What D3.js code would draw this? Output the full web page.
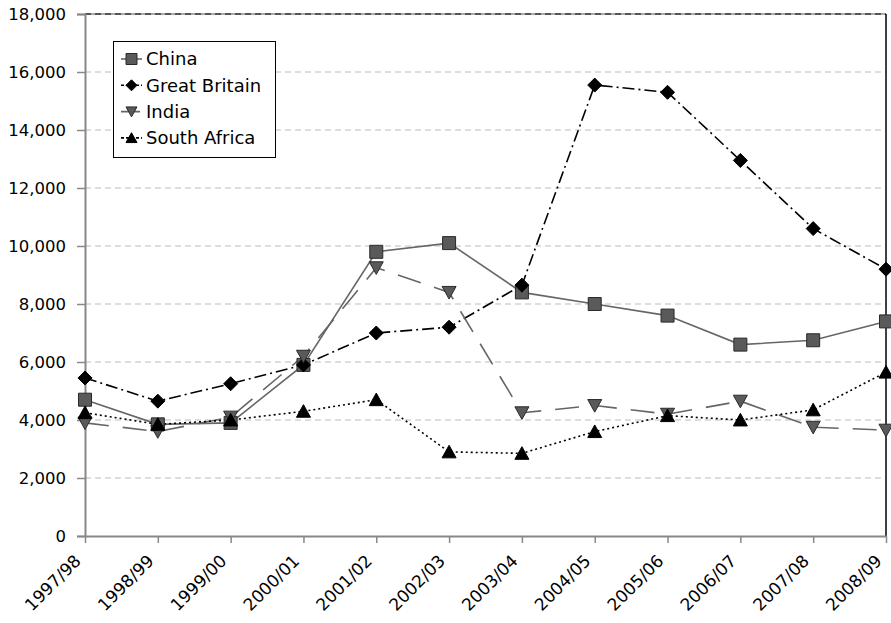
<!DOCTYPE html>
<html>
<head>
<meta charset="utf-8">
<script src="https://cdn.jsdelivr.net/npm/d3@7"></script>
<style>
  html, body { margin: 0; padding: 0; background: #fff; }
  svg { display: block; font-family: "DejaVu Sans", Verdana, sans-serif; }
</style>
</head>
<body>
<svg id="chart" width="891" height="623"></svg>
<script>
// Fiscal years on the x axis
const years = ["1997/98","1998/99","1999/00","2000/01","2001/02","2002/03",
               "2003/04","2004/05","2005/06","2006/07","2007/08","2008/09"];

// Series values per fiscal year
const china        = [4700, 3850, 3900, 5900, 9800, 10100, 8400, 8000, 7600, 6600, 6750, 7400];
const greatBritain = [5450, 4650, 5250, 5900, 7000, 7200, 8650, 15550, 15300, 12950, 10600, 9200];
const india        = [3900, 3600, 4100, 6200, 9250, 8400, 4250, 4500, 4200, 4650, 3750, 3650];
const southAfrica  = [4250, 3850, 4000, 4300, 4700, 2900, 2850, 3600, 4150, 4000, 4350, 5650];

const yTicks = [0, 2000, 4000, 6000, 8000, 10000, 12000, 14000, 16000, 18000];

const series = [
  { name: "China",        values: china,        line: "#666", dash: null,       legendDash: null,  marker: "square",  fill: "#5a5a5a", stroke: "#2a2a2a" },
  { name: "Great Britain",values: greatBritain, line: "#000", dash: "12,4,2,4", legendDash: "3,2", marker: "diamond", fill: "#000",    stroke: "#000" },
  { name: "India",        values: india,        line: "#666", dash: "24,14",    legendDash: "8,3", marker: "triDown", fill: "#5a5a5a", stroke: "#2a2a2a" },
  { name: "South Africa", values: southAfrica,  line: "#000", dash: "2,3",      legendDash: "3,2", marker: "triUp",   fill: "#000",    stroke: "#000" }
];

const svg = d3.select("#chart");
const plotLeft = 85, plotRight = 886, plotTop = 14, plotBottom = 536;

const x = d3.scalePoint().domain(years).range([plotLeft, plotRight]).padding(0);
const y = d3.scaleLinear().domain([0, 18000]).range([plotBottom, plotTop]);

// Horizontal gridlines
svg.append("g").selectAll("line")
  .data(yTicks.filter(d => d > 0 && d < 18000))
  .join("line")
  .attr("x1", plotLeft).attr("x2", plotRight)
  .attr("y1", d => y(d)).attr("y2", d => y(d))
  .attr("stroke", "#bdbdbd").attr("stroke-width", 1.2)
  .attr("stroke-dasharray", "6,4");

// Top border: light line with dark dashes
svg.append("line").attr("x1", plotLeft).attr("x2", plotRight)
  .attr("y1", y(18000)).attr("y2", y(18000))
  .attr("stroke", "#aaa").attr("stroke-width", 2);
svg.append("line").attr("x1", plotLeft).attr("x2", plotRight)
  .attr("y1", y(18000)).attr("y2", y(18000))
  .attr("stroke", "#555").attr("stroke-width", 2)
  .attr("stroke-dasharray", "6,4");

// Right border
svg.append("line").attr("x1", plotRight).attr("x2", plotRight)
  .attr("y1", plotTop).attr("y2", plotBottom)
  .attr("stroke", "#000").attr("stroke-width", 1.5);

// Y axis
const yAxis = svg.append("g")
  .attr("transform", `translate(${plotLeft},0)`)
  .call(d3.axisLeft(y).tickValues(yTicks).tickSize(8).tickPadding(11)
        .tickFormat(d3.format(",")));
yAxis.select(".domain").attr("stroke", "#888").attr("stroke-width", 2);
yAxis.selectAll(".tick line").attr("stroke", "#888").attr("stroke-width", 1.5);
yAxis.selectAll("text").attr("font-size", 16.5).attr("fill", "#000")
  .attr("font-family", "DejaVu Sans, Verdana, sans-serif");

// X axis
const xAxis = svg.append("g")
  .attr("transform", `translate(0,${plotBottom})`)
  .call(d3.axisBottom(x).tickSize(7).tickSizeOuter(0).tickFormat(""));
xAxis.select(".domain").attr("stroke", "#888").attr("stroke-width", 2);
xAxis.selectAll(".tick line").attr("stroke", "#888").attr("stroke-width", 1.5);

svg.append("g").selectAll("text")
  .data(years)
  .join("text")
  .attr("transform", d => `translate(${x(d) - 3},${plotBottom + 26}) rotate(-45)`)
  .attr("text-anchor", "end")
  .attr("font-size", 17)
  .attr("fill", "#000")
  .text(d => d);

// Marker shapes
function markerPath(type, s) {
  const h = s / 2;
  switch (type) {
    case "square":  return `M${-h},${-h}H${h}V${h}H${-h}Z`;
    case "diamond": return `M0,${-h}L${h},0L0,${h}L${-h},0Z`;
    case "triDown": return `M${-h},${-h * 0.85}H${h}L0,${h * 0.95}Z`;
    case "triUp":   return `M${-h},${h * 0.85}H${h}L0,${-h * 0.95}Z`;
  }
}
const markerSize = { square: 13, diamond: 14, triDown: 14, triUp: 14 };

const line = d3.line().x((d, i) => x(years[i])).y(d => y(d));

series.forEach(s => {
  svg.append("path")
    .attr("d", line(s.values))
    .attr("fill", "none")
    .attr("stroke", s.line)
    .attr("stroke-width", 1.6)
    .attr("stroke-dasharray", s.dash);
});
series.forEach(s => {
  svg.append("g").selectAll("path")
    .data(s.values)
    .join("path")
    .attr("transform", (d, i) => `translate(${x(years[i])},${y(d)})`)
    .attr("d", markerPath(s.marker, markerSize[s.marker]))
    .attr("fill", s.fill)
    .attr("stroke", s.stroke)
    .attr("stroke-width", 1);
});

// Legend
const lg = svg.append("g");
lg.append("rect").attr("x", 113.5).attr("y", 41.5).attr("width", 162).attr("height", 116)
  .attr("fill", "#fff").attr("stroke", "#000").attr("stroke-width", 1);
series.forEach((s, i) => {
  const cy = 59 + i * 26.3;
  lg.append("line").attr("x1", 121).attr("x2", 142).attr("y1", cy).attr("y2", cy)
    .attr("stroke", s.line).attr("stroke-width", 1.6)
    .attr("stroke-dasharray", s.legendDash);
  lg.append("path").attr("transform", `translate(131.5,${cy})`)
    .attr("d", markerPath(s.marker, 11))
    .attr("fill", s.fill).attr("stroke", s.stroke).attr("stroke-width", 1);
  lg.append("text").attr("x", 146).attr("y", cy).attr("dy", "0.36em")
    .attr("font-size", 18).attr("fill", "#000").text(s.name);
});
</script>
</body>
</html>
